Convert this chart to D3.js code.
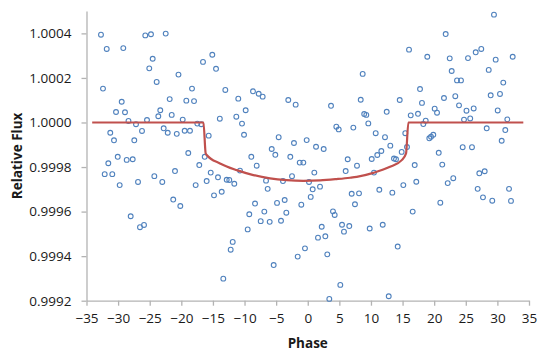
<!DOCTYPE html>
<html>
<head>
<meta charset="utf-8">
<script src="https://cdn.jsdelivr.net/npm/d3@7"></script>
<style>
  html, body { margin: 0; padding: 0; background: #fff; }
  svg { display: block; }
  .tick text { font-family: "Open Sans", "Noto Sans", sans-serif; font-size: 13.5px; fill: #1a1a1a; }
  .title { font-family: "Open Sans", "Noto Sans", sans-serif; font-size: 13.5px; font-weight: bold; fill: #1a1a1a; }
</style>
</head>
<body>
<svg id="chart" width="537" height="354"></svg>
<script>
// Observed photometry: orbital phase and relative flux
const phase = [
  -32.71, -25.70, -24.80, -22.47, -31.80, -29.18, -24.53, -25.07, -20.45, -23.90,
  -32.39, -21.84, -29.43, -30.33, -28.91, -23.33, -21.52, -23.64, -25.43, -28.36,
  -27.17, -31.24, -30.65, -26.22, -27.44, -22.79, -22.15, -20.72, -31.55, -30.06,
  -28.64, -27.69, -32.12, -30.92, -29.75, -26.85, -24.27, -23.01, -21.00, -21.28,
  -20.16, -28.01, -26.54, -25.90, -15.10, -16.57, -14.51, -18.31, -13.04, -8.66,
  -7.76, -7.13, -19.21, -17.99, -10.99, -3.08, -1.91, 3.68, -9.82, -19.78,
  -13.91, -11.30, -17.47, -16.84, -10.40, -19.47, -18.63, -15.67, -10.08, -4.60,
  -2.18, -0.17, -5.70, -5.13, 1.31, 2.52, 4.52, 4.90, -18.90, -16.30,
  -8.93, -2.76, -1.27, -0.70, 6.32, -17.16, -8.08, -15.35, -10.72, 1.04,
  6.00, -14.20, -15.99, -12.82, -12.41, -11.62, -17.73, -6.60, -3.92, -2.49,
  0.20, -6.34, 0.78, 1.94, -14.83, -13.61, -8.34, -4.86, -3.65, 0.47,
  -1.02, 6.95, -9.25, -6.87, -3.39, -7.44, -6.02, -4.23, 3.99, 4.26,
  2.21, 5.42, 6.57, -9.50, -11.87, -12.19, -13.36, -5.39, -1.59, -0.44,
  1.62, 2.78, 3.09, 5.73, 5.15, 3.41, 29.46, 21.82, 16.02, 18.91,
  27.45, 26.57, 22.46, 25.35, 29.73, 32.42, 22.77, 28.63, 8.69, 23.61,
  24.24, 30.93, 17.76, 8.38, 14.55, 18.07, 21.55, 23.34, 28.94, 30.41,
  23.93, 20.08, 20.45, 25.11, 26.25, 30.05, 12.49, 8.93, 9.26, 16.29,
  17.44, 18.66, 24.72, 25.70, 31.57, 9.58, 7.21, 18.28, 10.75, 12.22,
  15.43, 19.23, 19.50, 19.86, 28.31, 31.25, 30.68, 13.06, 15.70, 24.51,
  25.98, 11.64, 11.00, 14.86, 20.72, 10.12, 13.64, 13.96, 16.92, 21.28,
  7.79, 10.48, 27.14, 27.99, 17.17, 23.02, 22.14, 15.12, 11.32, 13.38,
  8.11, 26.88, 31.84, 7.47, 20.97, 27.72, 29.19, 32.15, 16.60, 9.80,
  11.86, 14.23, 12.81
];
const flux = [
  1.000394, 1.000391, 1.000396, 1.000399, 1.000330, 1.000334, 1.000286, 1.000243, 1.000215, 1.000182,
  1.000152, 1.000105, 1.000093, 1.000047, 1.000046, 1.000055, 1.000034, 1.000028, 1.000011, 1.000007,
  0.999992, 0.999954, 0.999920, 0.999962, 0.999920, 0.999974, 0.999954, 0.999949, 0.999817, 0.999846,
  0.999832, 0.999835, 0.999768, 0.999768, 0.999719, 0.999733, 0.999759, 0.999733, 0.999782, 0.999654,
  0.999625, 0.999579, 0.999530, 0.999540, 1.000304, 1.000272, 1.000241, 1.000152, 1.000146, 1.000140,
  1.000129, 1.000116, 1.000098, 1.000096, 1.000107, 1.000101, 1.000080, 1.000075, 1.000055, 1.000013,
  1.000017, 1.000026, 0.999995, 0.999992, 0.999995, 0.999963, 0.999963, 0.999941, 0.999945, 0.999934,
  0.999908, 0.999921, 0.999881, 0.999855, 0.999891, 0.999881, 0.999981, 0.999969, 0.999863, 0.999846,
  0.999846, 0.999846, 0.999820, 0.999820, 0.999835, 0.999809, 0.999806, 0.999775, 0.999784, 0.999775,
  0.999782, 0.999754, 0.999737, 0.999743, 0.999742, 0.999725, 0.999719, 0.999739, 0.999737, 0.999759,
  0.999733, 0.999702, 0.999700, 0.999712, 0.999673, 0.999689, 0.999636, 0.999639, 0.999652, 0.999666,
  0.999631, 0.999680, 0.999588, 0.999600, 0.999595, 0.999557, 0.999554, 0.999559, 0.999601, 0.999585,
  0.999532, 0.999541, 0.999535, 0.999520, 0.999464, 0.999429, 0.999299, 0.999360, 0.999398, 0.999435,
  0.999483, 0.999489, 0.999408, 0.999510, 0.999271, 0.999208, 1.000484, 1.000397, 1.000327, 1.000295,
  1.000330, 1.000315, 1.000288, 1.000289, 1.000282, 1.000295, 1.000231, 1.000236, 1.000218, 1.000189,
  1.000189, 1.000179, 1.000150, 1.000102, 1.000101, 1.000088, 1.000110, 1.000118, 1.000122, 1.000128,
  1.000077, 1.000062, 1.000044, 1.000053, 1.000063, 1.000054, 1.000048, 1.000038, 1.000034, 1.000032,
  1.000039, 1.000008, 1.000013, 1.000018, 1.000014, 0.999996, 0.999977, 0.999993, 0.999952, 0.999934,
  0.999952, 0.999929, 0.999936, 0.999945, 0.999974, 0.999966, 0.999918, 0.999896, 0.999890, 0.999889,
  0.999889, 0.999872, 0.999854, 0.999868, 0.999864, 0.999836, 0.999838, 0.999835, 0.999809, 0.999811,
  0.999806, 0.999775, 0.999772, 0.999781, 0.999734, 0.999750, 0.999728, 0.999719, 0.999698, 0.999685,
  0.999682, 0.999702, 0.999702, 0.999633, 0.999640, 0.999664, 0.999649, 0.999648, 0.999600, 0.999524,
  0.999541, 0.999443, 0.999220
];

// Transit model curve
const modelPhase = [-34.1, -16.5, -16.15, -15.98, -13.88, -11.23, -8.61, -5.97, -3.32, -0.70,
  1.95, 4.59, 6.69, 7.75, 10.38, 13.02, 14.87, 15.55, 15.92, 34.1];
const modelFlux = [1.0, 1.0, 0.999862, 0.999854, 0.999816, 0.999786, 0.999764, 0.999749, 0.999741, 0.999738,
  0.999740, 0.999746, 0.999752, 0.999756, 0.999774, 0.999801, 0.999831, 0.999861, 1.0, 1.0];

// Axis ticks
const xTicks = [-35, -30, -25, -20, -15, -10, -5, 0, 5, 10, 15, 20, 25, 30, 35];
const yTicks = [0.9992, 0.9994, 0.9996, 0.9998, 1.0000, 1.0002, 1.0004];

const svg = d3.select("#chart");
const plotLeft = 86.5, plotRight = 529, plotTop = 11.1, plotBottom = 300.7;

const x = d3.scaleLinear().domain([-35, 35]).range([plotLeft, plotRight]);
const y = d3.scaleLinear().domain([0.9992, 1.0005]).range([plotBottom, plotTop]);

const axisColor = "#b3b3b3";

// x axis
const gx = svg.append("g").attr("transform", `translate(0,${plotBottom})`)
  .call(d3.axisBottom(x).tickValues(xTicks).tickSize(5).tickSizeOuter(0).tickPadding(8)
    .tickFormat(d3.format("d")));
gx.select(".domain").attr("stroke", axisColor).attr("stroke-width", 1.3);
gx.selectAll(".tick line").attr("stroke", axisColor).attr("stroke-width", 1.3);

// y axis
const gy = svg.append("g").attr("transform", `translate(${plotLeft},0)`)
  .call(d3.axisLeft(y).tickValues(yTicks).tickSize(5).tickSizeOuter(0).tickPadding(10)
    .tickFormat(d3.format(".4f")));
gy.select(".domain").attr("stroke", axisColor).attr("stroke-width", 1.3);
gy.selectAll(".tick line").attr("stroke", axisColor).attr("stroke-width", 1.3);

// observed points
const pts = phase.map((p, i) => [p, flux[i]]);
svg.append("g").selectAll("circle").data(pts).join("circle")
  .attr("cx", d => x(d[0]))
  .attr("cy", d => y(d[1]))
  .attr("r", 2.4)
  .attr("fill", "none")
  .attr("stroke", "#4f81bd")
  .attr("stroke-width", 1.1);

// model line
const model = modelPhase.map((p, i) => [p, modelFlux[i]]);
svg.append("path").datum(model)
  .attr("d", d3.line().x(d => x(d[0])).y(d => y(d[1])).curve(d3.curveMonotoneX))
  .attr("fill", "none")
  .attr("stroke", "#c0504d")
  .attr("stroke-width", 2.2);

// axis titles
svg.append("text").attr("class", "title")
  .attr("x", (plotLeft + plotRight) / 2).attr("y", 348)
  .attr("text-anchor", "middle").text("Phase");
svg.append("text").attr("class", "title")
  .attr("transform", `translate(22,${(plotTop + plotBottom) / 2}) rotate(-90)`)
  .attr("text-anchor", "middle").text("Relative Flux");
</script>
</body>
</html>
